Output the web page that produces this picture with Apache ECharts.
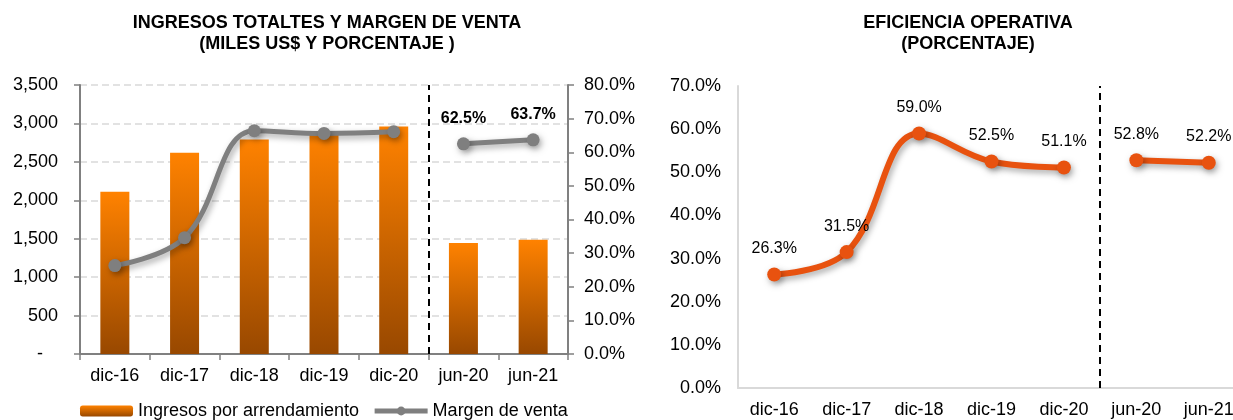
<!DOCTYPE html>
<html>
<head>
<meta charset="utf-8">
<script src="https://cdn.jsdelivr.net/npm/echarts@6/dist/echarts.min.js"></script>
<style>
    html, body { margin: 0; padding: 0; background: #fff; }
    #chart { width: 1233px; height: 420px; }
</style>
</head>
<body>
<div id="chart"></div>
<script>
    // datos
    const categories = ['dic-16', 'dic-17', 'dic-18', 'dic-19', 'dic-20', 'jun-20', 'jun-21'];
    const ingresos = [2110, 2620, 2790, 2870, 2960, 1445, 1485];
    const margenVenta = [26.3, 34.6, 66.4, 65.6, 66.1, 62.5, 63.7];
    const eficiencia = [26.3, 31.5, 59.0, 52.5, 51.1, 52.8, 52.2];
    // los cierres de año van antes del corte, los semestres despues
    const splitIndex = 5;

    const font = "'Liberation Sans', Arial, sans-serif";
    const gris = '#7F7F7F';
    const naranja = '#E8520F';

    const antes = arr => arr.map((v, i) => i < splitIndex ? v : null);
    const despues = arr => arr.map((v, i) => i >= splitIndex ? v : null);
    const pct = v => v.toFixed(1) + '%';

    const sombra = {
        shadowColor: 'rgba(0,0,0,0.35)',
        shadowBlur: 6,
        shadowOffsetX: 2,
        shadowOffsetY: 3
    };

    const corte = {
        symbol: 'none',
        silent: true,
        label: { show: false },
        lineStyle: { color: '#000', type: [7, 5], width: 2 },
        data: [{ xAxis: splitIndex }]
    };

    let chart = echarts.init(document.getElementById('chart'));
    chart.setOption({
        animation: false,
        textStyle: { fontFamily: font },
        title: [
            {
                text: 'INGRESOS TOTALTES Y MARGEN DE VENTA\n(MILES US$ Y PORCENTAJE )',
                left: 322,
                top: 8,
                textAlign: 'center',
                textStyle: { fontSize: 18, fontWeight: 'bold', color: '#000', lineHeight: 21, fontFamily: font }
            },
            {
                text: 'EFICIENCIA OPERATIVA\n(PORCENTAJE)',
                left: 963,
                top: 8,
                textAlign: 'center',
                textStyle: { fontSize: 18, fontWeight: 'bold', color: '#000', lineHeight: 21, fontFamily: font }
            }
        ],
        legend: {
            data: ['Ingresos por arrendamiento', 'Margen de venta'],
            left: 80,
            top: 402,
            padding: 0,
            itemWidth: 53,
            itemHeight: 11,
            itemGap: 13,
            lineStyle: { width: 5 },
            textStyle: { fontSize: 18, color: '#000', fontFamily: font }
        },
        grid: [
            { left: 80, top: 85, width: 488, height: 269, outerBoundsMode: 'none' },
            { left: 738, top: 86, width: 507, height: 302, outerBoundsMode: 'none' }
        ],
        xAxis: [
            {
                type: 'category',
                gridIndex: 0,
                data: categories,
                axisLine: { lineStyle: { color: '#808080', width: 2 } },
                axisTick: { show: true, length: 6, lineStyle: { color: '#808080', width: 1.5 } },
                axisLabel: { fontSize: 18, color: '#000', margin: 13 }
            },
            {
                type: 'category',
                gridIndex: 1,
                data: categories,
                axisLine: { lineStyle: { color: '#D9D9D9', width: 2 } },
                axisTick: { show: false },
                axisLabel: { fontSize: 18, color: '#000', margin: 13 }
            },
            { type: 'value', gridIndex: 0, min: 0, max: categories.length, show: false },
            { type: 'value', gridIndex: 1, min: 0, max: categories.length, show: false }
        ],
        yAxis: [
            {
                type: 'value',
                gridIndex: 0,
                min: 0,
                max: 3500,
                interval: 500,
                axisLine: { show: true, lineStyle: { color: '#808080', width: 2 } },
                axisTick: { show: true, length: 6, lineStyle: { color: '#808080', width: 1.5 } },
                axisLabel: {
                    fontSize: 18,
                    color: '#000',
                    margin: 22,
                    formatter: v => v === 0 ? '-   ' : v.toLocaleString('en-US')
                },
                splitLine: { lineStyle: { color: '#D9D9D9', width: 1.5, type: [7, 4] } }
            },
            {
                type: 'value',
                gridIndex: 0,
                position: 'right',
                min: 0,
                max: 80,
                interval: 10,
                axisLine: { show: true, lineStyle: { color: '#808080', width: 2 } },
                axisTick: { show: true, length: 6, lineStyle: { color: '#808080', width: 1.5 } },
                axisLabel: { fontSize: 18, color: '#000', margin: 16, formatter: pct },
                splitLine: { show: false }
            },
            {
                type: 'value',
                gridIndex: 1,
                min: 0,
                max: 70,
                interval: 10,
                axisLine: { show: true, lineStyle: { color: '#D9D9D9', width: 2 } },
                axisTick: { show: false },
                axisLabel: { fontSize: 18, color: '#000', margin: 17, formatter: pct },
                splitLine: { show: false }
            }
        ],
        series: [
            {
                name: 'Ingresos por arrendamiento',
                type: 'bar',
                xAxisIndex: 0,
                yAxisIndex: 0,
                barWidth: 29,
                data: ingresos,
                itemStyle: {
                    color: new echarts.graphic.LinearGradient(0, 0, 0, 1, [
                        { offset: 0, color: '#FF8200' },
                        { offset: 1, color: '#984800' }
                    ])
                }
            },
            {
                name: 'Margen de venta',
                type: 'line',
                xAxisIndex: 0,
                yAxisIndex: 1,
                data: antes(margenVenta),
                smooth: 0.4,
                symbol: 'circle',
                symbolSize: 13,
                lineStyle: Object.assign({ color: gris, width: 5 }, sombra),
                itemStyle: Object.assign({ color: gris }, sombra)
            },
            {
                name: 'Margen de venta',
                type: 'line',
                xAxisIndex: 0,
                yAxisIndex: 1,
                data: despues(margenVenta),
                smooth: 0.4,
                symbol: 'circle',
                symbolSize: 13,
                lineStyle: Object.assign({ color: gris, width: 5 }, sombra),
                itemStyle: Object.assign({ color: gris }, sombra),
                label: {
                    show: true,
                    position: 'top',
                    distance: 11,
                    fontSize: 16,
                    fontWeight: 'bold',
                    color: '#000',
                    formatter: p => pct(p.value)
                }
            },
            {
                name: 'corte1',
                type: 'line',
                xAxisIndex: 2,
                yAxisIndex: 0,
                data: [],
                markLine: corte
            },
            {
                name: 'Eficiencia',
                type: 'line',
                xAxisIndex: 1,
                yAxisIndex: 2,
                data: antes(eficiencia),
                smooth: 0.4,
                symbol: 'circle',
                symbolSize: 14,
                lineStyle: Object.assign({ color: naranja, width: 6 }, sombra),
                itemStyle: Object.assign({ color: naranja }, sombra),
                label: {
                    show: true,
                    position: 'top',
                    distance: 11,
                    fontSize: 16,
                    color: '#000',
                    formatter: p => pct(p.value)
                }
            },
            {
                name: 'Eficiencia',
                type: 'line',
                xAxisIndex: 1,
                yAxisIndex: 2,
                data: despues(eficiencia),
                smooth: 0.4,
                symbol: 'circle',
                symbolSize: 14,
                lineStyle: Object.assign({ color: naranja, width: 6 }, sombra),
                itemStyle: Object.assign({ color: naranja }, sombra),
                label: {
                    show: true,
                    position: 'top',
                    distance: 11,
                    fontSize: 16,
                    color: '#000',
                    formatter: p => pct(p.value)
                }
            },
            {
                name: 'corte2',
                type: 'line',
                xAxisIndex: 3,
                yAxisIndex: 2,
                data: [],
                markLine: corte
            }
        ]
    });
</script>
</body>
</html>
